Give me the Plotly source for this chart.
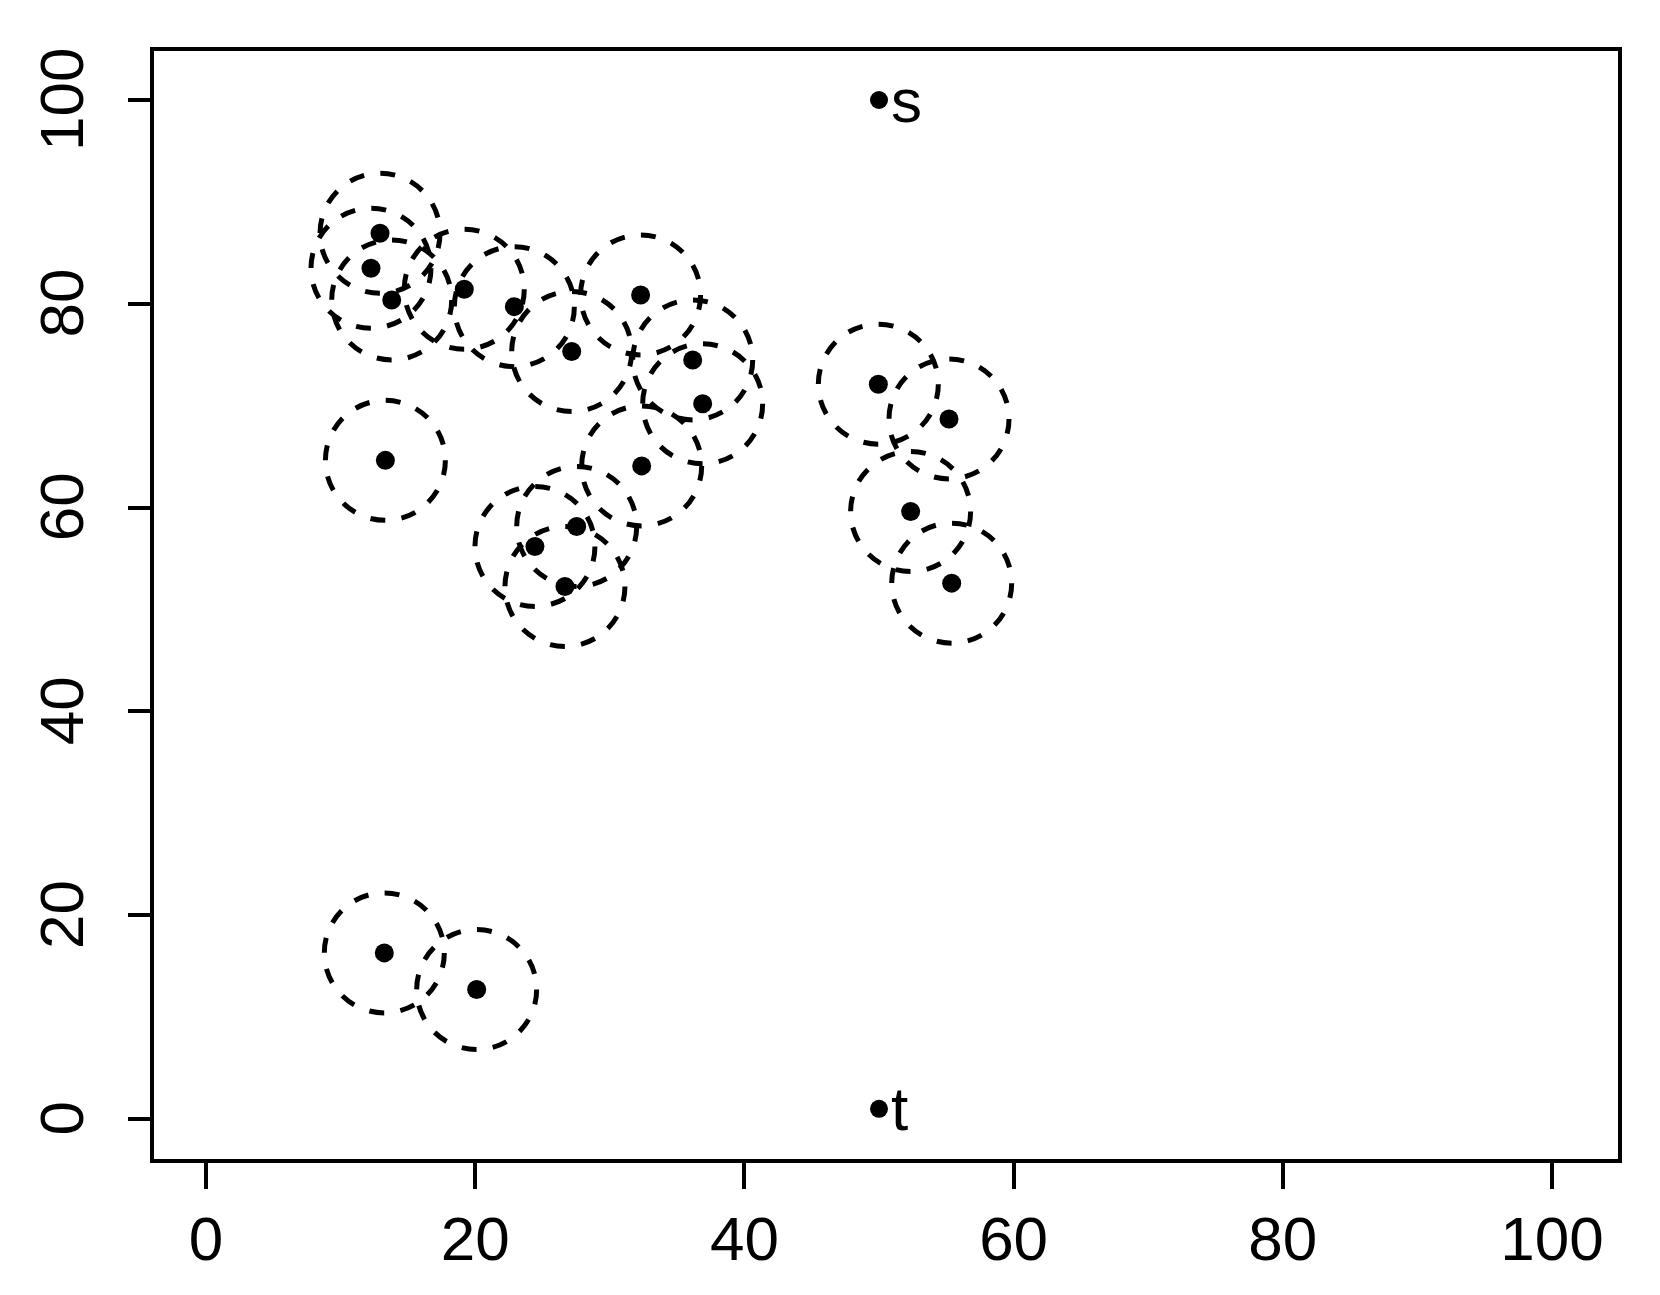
import plotly.graph_objects as go

# point data (x, y)
px = [12.93, 12.26, 13.80, 19.19, 22.91, 32.29, 27.17, 36.16, 36.90,
      13.33, 32.37, 27.54, 24.44, 26.67,
      49.95, 55.20, 52.35, 55.40,
      13.25, 20.11]
py = [86.92, 83.49, 80.38, 81.43, 79.72, 80.87, 75.31, 74.49, 70.18,
      64.63, 64.09, 58.14, 56.18, 52.25,
      72.11, 68.70, 59.61, 52.58,
      16.29, 12.69]

# labelled terminal points
lab_x = [50.0, 50.0]
lab_y = [100.0, 0.98]
lab_txt = ["s", "t"]

tick_vals = [0, 20, 40, 60, 80, 100]
tick_text = ["0", "20", "40", "60", "80", "100"]

RADIUS_PX = 60
FONT = "Liberation Sans, Arial, sans-serif"

fig = go.Figure()

fig.add_trace(go.Scatter(x=px, y=py, mode="markers",
                         marker=dict(size=19, color="black"),
                         showlegend=False, hoverinfo="skip"))
fig.add_trace(go.Scatter(x=lab_x, y=lab_y, mode="markers",
                         marker=dict(size=18, color="black"),
                         showlegend=False, hoverinfo="skip"))

shapes = []
for cx, cy in zip(px, py):
    shapes.append(dict(type="circle", xref="x", yref="y",
                       xsizemode="pixel", ysizemode="pixel",
                       xanchor=cx, yanchor=cy,
                       x0=-RADIUS_PX, x1=RADIUS_PX, y0=-RADIUS_PX, y1=RADIUS_PX,
                       line=dict(color="black", width=5, dash="15px,16.4px")))

annotations = []
for lx, ly, t in zip(lab_x, lab_y, lab_txt):
    annotations.append(dict(x=lx, y=ly, xref="x", yref="y", text=t,
                            showarrow=False, xanchor="left", yanchor="middle",
                            xshift=10, yshift=0,
                            font=dict(family=FONT, size=62, color="black")))

fig.update_layout(
    width=1644, height=1279,
    margin=dict(l=146, r=34, t=43, b=127.5),
    paper_bgcolor="white", plot_bgcolor="white",
    shapes=shapes, annotations=annotations,
    font=dict(family=FONT, color="black"),
    xaxis=dict(range=[-3.86, 104.9], tickmode="array", tickvals=tick_vals,
               ticktext=tick_text, showgrid=False, zeroline=False,
               automargin=False,
               showline=True, mirror=True, linecolor="black", linewidth=4,
               ticks="outside", ticklen=26, tickwidth=4, tickcolor="black",
               ticklabelstandoff=-3,
               tickfont=dict(family=FONT, size=62, color="black")),
    yaxis=dict(range=[-3.94, 104.81], tickmode="array", tickvals=tick_vals,
               ticktext=[t + "\u00a0" for t in tick_text],
               showgrid=False, zeroline=False,
               automargin=False,
               showline=True, mirror=True, linecolor="black", linewidth=4,
               ticks="outside", ticklen=22, tickwidth=4, tickcolor="black",
               tickangle=-90, ticklabelstandoff=20,
               tickfont=dict(family=FONT, size=62, color="black")),
)

fig.write_html("out.html")
